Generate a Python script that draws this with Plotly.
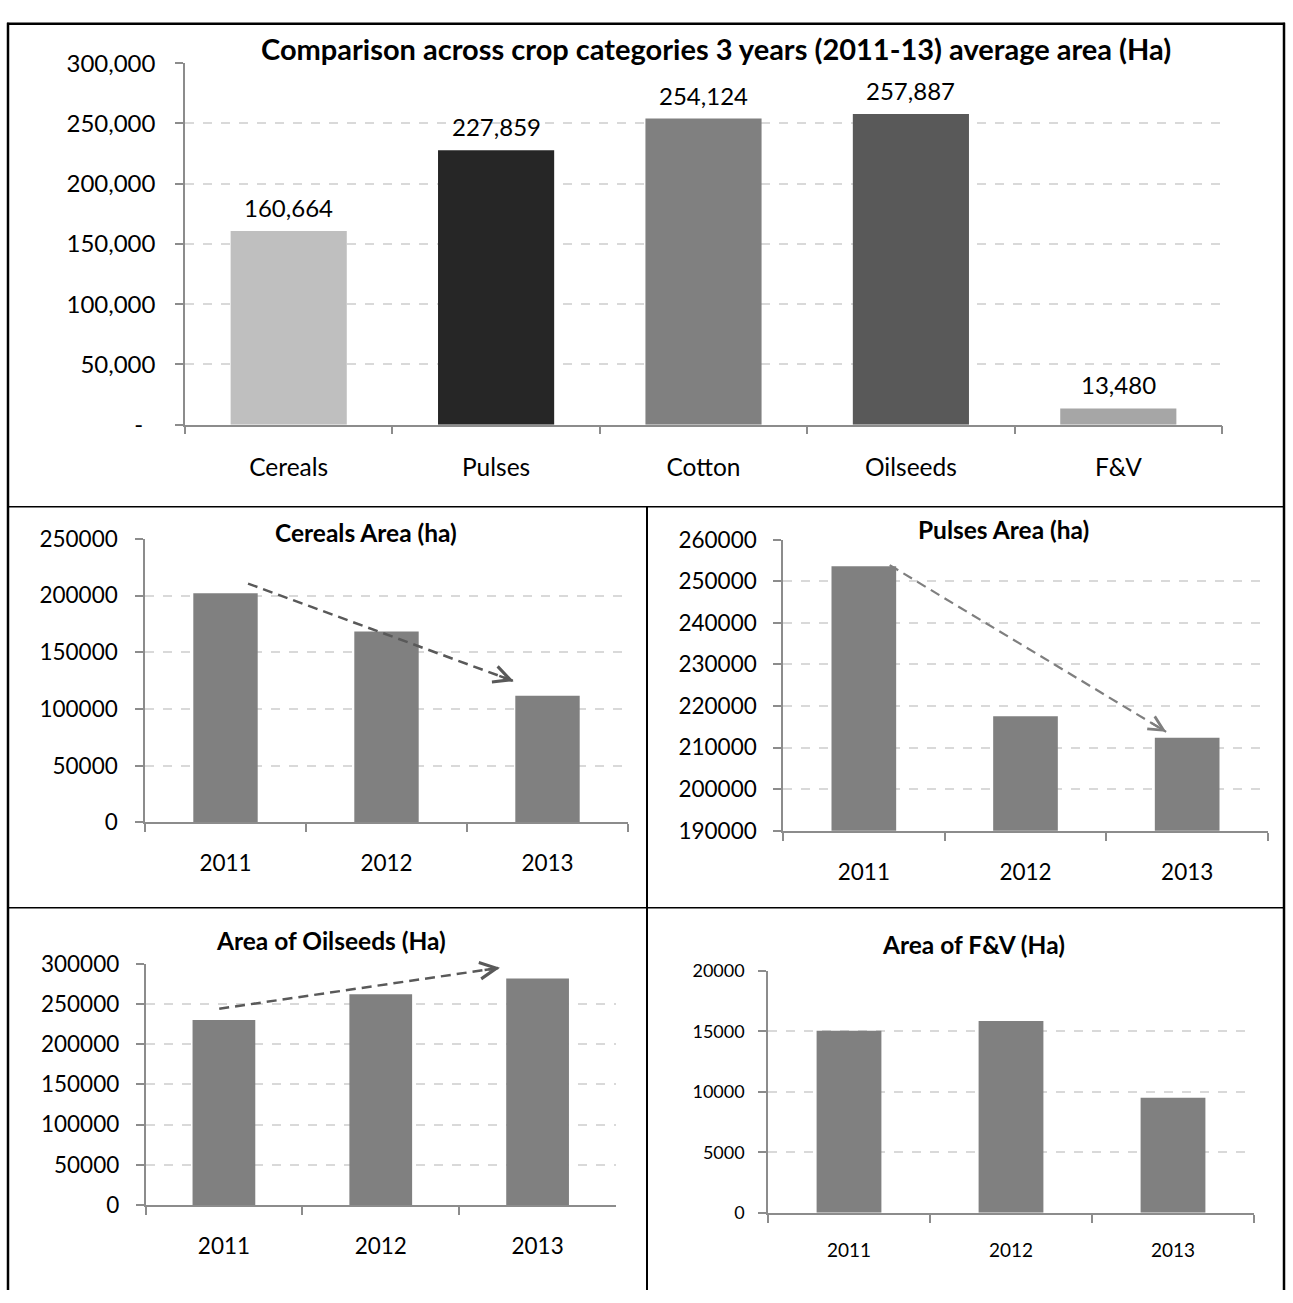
import plotly.graph_objects as go

W, H = 1293, 1303
FONT = "Lato"

# ---- data -------------------------------------------------------------
crop_categories = ["Cereals", "Pulses", "Cotton", "Oilseeds", "F&V"]
avg_area_2011_13 = [160664, 227859, 254124, 257887, 13480]
avg_bar_colors = ["#bfbfbf", "#262626", "#808080", "#595959", "#a6a6a6"]
avg_ticks = [0, 50000, 100000, 150000, 200000, 250000, 300000]
avg_tick_text = ["-\u00a0\u00a0", "50,000", "100,000", "150,000", "200,000", "250,000", "300,000"]

years = ["2011", "2012", "2013"]
cereals_area = [202000, 168300, 111700]
pulses_area = [253640, 217560, 212380]
oilseeds_area = [230000, 262000, 281700]
fv_area = [15050, 15870, 9520]

# trend arrows: (x0, y0, x1, y1) in category-index / value units
cereals_trend = (0.14, 210500, 1.79, 124500)
pulses_trend = (0.16, 253900, 1.87, 213800)
oilseeds_trend = (-0.03, 244000, 1.76, 295000)


def px_x(a, b):
    return [a / W, b / W]


def px_y(top, bottom):
    return [1 - bottom / H, 1 - top / H]


AXIS_GREY = "#8c8c8c"
GRID_GREY = "#d9d9d9"


def xaxis_style(domain, anchor, size, standoff):
    return dict(
        domain=domain, anchor=anchor, type="category",
        showline=True, linecolor=AXIS_GREY, linewidth=1.5,
        ticks="outside", tickson="boundaries", ticklen=8, tickcolor=AXIS_GREY, tickwidth=1.5,
        showgrid=False, zeroline=False, fixedrange=True,
        tickfont=dict(family=FONT, size=size, color="#000"),
        ticklabelstandoff=standoff,
    )


def yaxis_style(domain, anchor, rng, dtick, size, standoff):
    return dict(
        domain=domain, anchor=anchor, range=rng, dtick=dtick, tick0=0,
        showline=True, linecolor=AXIS_GREY, linewidth=1.5,
        ticks="outside", ticklen=8, tickcolor=AXIS_GREY, tickwidth=1.5,
        showgrid=True, gridcolor=GRID_GREY, gridwidth=1.5, griddash="dash",
        zeroline=False, fixedrange=True, tickformat="d",
        tickfont=dict(family=FONT, size=size, color="#000"),
        ticklabelstandoff=standoff,
    )


fig = go.Figure()

# ---- overview chart ----------------------------------------------------
fig.add_trace(go.Bar(x=crop_categories, y=avg_area_2011_13, marker_color=avg_bar_colors,
                     marker_line_width=0, xaxis="x", yaxis="y", hoverinfo="skip"))

# ---- per-crop yearly charts ---------------------------------------------
small = [
    ("x2", "y2", cereals_area),
    ("x3", "y3", pulses_area),
    ("x4", "y4", oilseeds_area),
    ("x5", "y5", fv_area),
]
for xa, ya, vals in small:
    fig.add_trace(go.Bar(x=years, y=vals, marker_color="#808080", marker_line_width=0,
                         xaxis=xa, yaxis=ya, hoverinfo="skip"))

layout = dict(
    width=W, height=H, margin=dict(l=0, r=0, t=0, b=0),
    paper_bgcolor="white", plot_bgcolor="white", showlegend=False,
    font=dict(family=FONT, color="#000"),
    bargap=0.6,
    xaxis=xaxis_style(px_x(185, 1222), "y", 24.5, 20),
    yaxis=yaxis_style(px_y(48.3, 418), "x", [0, 300000], 50000, 24, 15),
    xaxis2=xaxis_style(px_x(145, 628), "y2", 22.5, 20),
    yaxis2=yaxis_style(px_y(534.7, 824.7), "x2", [0, 250000], 50000, 22.5, 13),
    xaxis3=xaxis_style(px_x(783, 1268), "y3", 22.5, 20),
    yaxis3=yaxis_style(px_y(535.7, 833.3), "x3", [190000, 260000], 10000, 22.5, 12),
    xaxis4=xaxis_style(px_x(145.5, 616), "y4", 22.5, 20),
    yaxis4=yaxis_style(px_y(969.3, 1216), "x4", [0, 300000], 50000, 22.5, 12),
    xaxis5=xaxis_style(px_x(768, 1254), "y5", 19, 20),
    yaxis5=yaxis_style(px_y(976.7, 1224), "x5", [0, 20000], 5000, 18, 10),
)
layout["yaxis"]["tickvals"] = avg_ticks
layout["yaxis"]["ticktext"] = avg_tick_text
fig.update_layout(**layout)
fig.data[0].update(width=0.56)

annotations = []

# value labels above overview bars
for cat, v in zip(crop_categories, avg_area_2011_13):
    annotations.append(dict(x=cat, y=v, xref="x", yref="y", text=f"{v:,}", showarrow=False,
                            yanchor="bottom", yshift=7, font=dict(family=FONT, size=24, color="#000")))

# chart titles
titles = [
    ("Comparison across crop categories 3 years (2011-13) average area (Ha)", 716, 33, 29),
    ("Cereals Area (ha)", 366, 528, 24.5),
    ("Pulses Area (ha)", 1003, 525, 24.5),
    ("Area of Oilseeds (Ha)", 331, 946, 24.5),
    ("Area of F&V (Ha)", 973, 950, 24.5),
]
for text, cx, cy, size in titles:
    annotations.append(dict(x=cx / W, y=1 - cy / H, xref="paper", yref="paper", text=f"<b>{text}</b>",
                            showarrow=False, xanchor="center", yanchor="middle",
                            font=dict(family=FONT, size=size, color="#000")))

shapes = []

# dashed trend arrows
for (x0, y0, x1, y1), xa, ya, col, lw in [
    (cereals_trend, "x2", "y2", "#595959", 2.5),
    (pulses_trend, "x3", "y3", "#7f7f7f", 2.2),
    (oilseeds_trend, "x4", "y4", "#595959", 2.5),
]:
    shapes.append(dict(type="line", xref=xa, yref=ya, x0=x0, y0=y0, x1=x1, y1=y1,
                       line=dict(color=col, width=lw, dash="10px,6px"), layer="above"))
    f = 0.06
    annotations.append(dict(x=x1, y=y1, xref=xa, yref=ya, axref=xa, ayref=ya,
                            ax=x1 - f * (x1 - x0), ay=y1 - f * (y1 - y0), text="",
                            showarrow=True, arrowhead=5, arrowsize=1.3, arrowwidth=lw,
                            arrowcolor=col))


# table frame around the panels
def hline(py, xa, xb, w):
    return dict(type="line", xref="paper", yref="paper", x0=xa / W, x1=xb / W,
                y0=1 - py / H, y1=1 - py / H, line=dict(color="#000", width=w))


def vline(px, ya, yb, w):
    return dict(type="line", xref="paper", yref="paper", x0=px / W, x1=px / W,
                y0=1 - ya / H, y1=1 - yb / H, line=dict(color="#000", width=w))


shapes += [
    hline(8, 7, 1285, 2.5),
    vline(8, 7, 1303, 2.5),
    vline(1284, 7, 1303, 2.5),
    hline(502, 8, 1284, 1.5),
    hline(912, 8, 1284, 1.5),
    vline(647, 502, 1303, 2),
]

fig.update_layout(annotations=annotations, shapes=shapes)
fig.write_html("out.html")
